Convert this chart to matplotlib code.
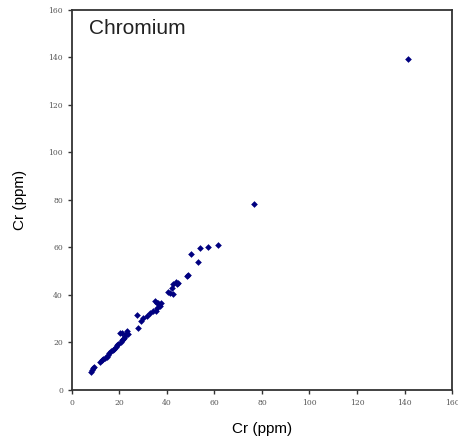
import matplotlib
matplotlib.use('Agg')
from matplotlib import pyplot as plt

# Cr measured vs Cr reference (ppm)
cr_x = [8.0, 8.3, 8.7, 9.2, 12.0, 12.5, 13.2, 13.8, 14.6, 15.3, 15.8, 16.5,
        17.2, 17.8, 18.4, 19.0, 19.6, 20.2, 20.5, 20.9, 21.0, 21.5, 22.0,
        22.5, 22.9, 23.3, 23.7, 27.2, 27.9, 28.9, 30.0, 31.4, 32.8, 34.2,
        34.9, 35.4, 35.7, 35.9, 36.3, 37.0, 37.4, 40.5, 41.3, 42.4, 42.0,
        42.7, 43.8, 44.1, 44.8, 48.6, 48.9, 50.0, 53.2, 53.9, 57.1, 61.6,
        76.8, 141.3]
cr_y = [7.6, 8.4, 9.0, 9.6, 11.5, 12.4, 12.8, 13.3, 13.7, 14.8, 15.6, 16.2,
        16.8, 17.3, 18.1, 18.8, 19.4, 23.9, 20.3, 23.9, 20.8, 21.4, 22.0,
        22.6, 23.5, 24.8, 23.4, 31.6, 26.2, 28.8, 30.2, 30.9, 32.3, 33.3,
        37.2, 33.1, 36.5, 34.4, 36.5, 35.1, 36.5, 41.2, 40.7, 40.3, 42.8,
        44.6, 45.3, 44.6, 45.1, 48.1, 48.5, 57.3, 53.8, 59.6, 60.3, 61.0,
        78.3, 139.2]
ticks = list(range(0, 161, 20))

fig = plt.figure(figsize=(4.58, 4.46), dpi=100)
ax = fig.add_axes([0.157, 0.126, 0.83, 0.852])
ax.plot(cr_x, cr_y, 'D', color='#000080', markersize=3.4, markeredgewidth=0)

ax.set_xlim(0, 160)
ax.set_ylim(0, 160)
ax.set_xticks(ticks)
ax.set_yticks(ticks)
ax.tick_params(labelsize=5.5, length=3, width=1, colors='#333333',
               labelcolor='#555555')
for lab in ax.get_xticklabels() + ax.get_yticklabels():
    lab.set_family('DejaVu Serif')
for sp in ax.spines.values():
    sp.set_linewidth(1.3)
    sp.set_color('#333333')

ax.set_xlabel('Cr (ppm)', family='Liberation Sans', fontsize=11, labelpad=11)
ax.set_ylabel('Cr (ppm)', family='Liberation Sans', fontsize=11, labelpad=15)
ax.text(0.045, 0.975, 'Chromium', transform=ax.transAxes, va='top',
        family='Liberation Sans', fontsize=15, color='#222222')

plt.savefig('out.png', dpi=100)
